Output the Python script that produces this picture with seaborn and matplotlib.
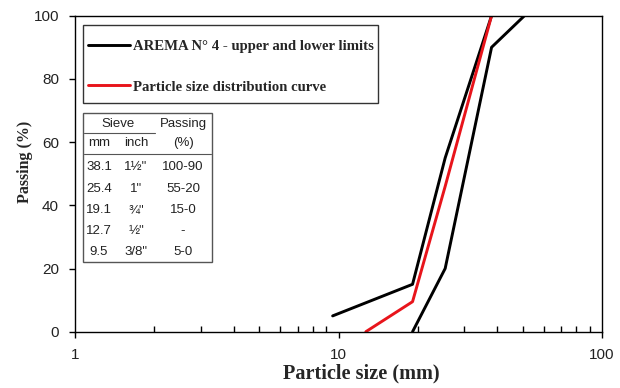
import matplotlib
matplotlib.use("Agg")
import matplotlib.pyplot as plt
import seaborn as sns
import pandas as pd
from matplotlib.ticker import LogLocator, NullFormatter, FixedLocator
from matplotlib.lines import Line2D
from matplotlib.patches import Rectangle

# ---- data ----
upper_size = [9.5, 19.1, 25.4, 38.1]
upper_pass = [5, 15, 55, 100]
lower_size = [19.1, 25.4, 38.1, 50.8]
lower_pass = [0, 20, 90, 100]
curve_size = [12.7, 19.1, 25.4, 38.1]
curve_pass = [0, 9.5, 46, 100]

table_mm = ["38.1", "25.4", "19.1", "12.7", "9.5"]
table_inch = ["1\u00bd\"", "1\"", "\u00be\"", "\u00bd\"", "3/8\""]
table_pass = ["100-90", "55-20", "15-0", "-", "5-0"]

legend_labels = ["AREMA N\u00b0 4 - upper and lower limits", "Particle size distribution curve"]
x_ticks = [1, 10, 100]
y_ticks = [0, 20, 40, 60, 80, 100]

sns.set_theme(style="white")
plt.rcParams['font.family'] = ['Liberation Sans', 'DejaVu Sans']

W, H = 620, 388
fig = plt.figure(figsize=(W / 100, H / 100), dpi=100)
ax_l, ax_r, ax_t, ax_b = 75, 602, 15.7, 331.7
ax = fig.add_axes([ax_l / W, 1 - ax_b / H, (ax_r - ax_l) / W, (ax_b - ax_t) / H])

df_u = pd.DataFrame({"size": upper_size, "pass": upper_pass})
df_l = pd.DataFrame({"size": lower_size, "pass": lower_pass})
df_c = pd.DataFrame({"size": curve_size, "pass": curve_pass})

lw = 2.1
red = "#e8141b"
sns.lineplot(data=df_u, x="size", y="pass", color="black", lw=lw, sort=False, estimator=None, ax=ax)
sns.lineplot(data=df_l, x="size", y="pass", color="black", lw=lw, sort=False, estimator=None, ax=ax)
sns.lineplot(data=df_c, x="size", y="pass", color=red, lw=lw, sort=False, estimator=None, ax=ax)

ax.set_xscale("log")
ax.set_xlim(1, 100)
ax.set_ylim(0, 100)
ax.xaxis.set_major_locator(FixedLocator(x_ticks))
ax.set_xticklabels([str(t) for t in x_ticks])
ax.xaxis.set_minor_locator(LogLocator(base=10, subs=range(2, 10)))
ax.xaxis.set_minor_formatter(NullFormatter())
ax.set_yticks(y_ticks)
ax.set_yticklabels([str(t) for t in y_ticks])

for s in ax.spines.values():
    s.set_visible(True)
    s.set_color("black")
    s.set_linewidth(1.0)

ax.tick_params(axis="x", which="major", direction="out", length=4, width=1, color="black",
               labelsize=11, pad=8, labelcolor="#222222", bottom=True)
ax.tick_params(axis="x", which="minor", direction="in", length=4, width=1, color="black", bottom=True)
ax.tick_params(axis="y", which="major", direction="out", length=4.5, width=1, color="black",
               labelsize=11, pad=7, labelcolor="#222222", left=True)

serif = ['Liberation Serif', 'DejaVu Serif']
ax.set_xlabel("Particle size (mm)", fontdict=dict(family=serif, weight='bold', size=14.6))
ax.xaxis.set_label_coords((361 - ax_l) / (ax_r - ax_l), -(373 - ax_b) / (ax_b - ax_t), transform=ax.transAxes)
ax.xaxis.label.set_va("center")
ax.set_ylabel("Passing (%)", fontdict=dict(family=serif, weight='bold', size=11.5))
ax.yaxis.set_label_coords(-(ax_l - 25) / (ax_r - ax_l), (ax_b - 162) / (ax_b - ax_t), transform=ax.transAxes)
ax.yaxis.label.set_va("center")


def fx(px):
    return px / W


def fy(py):
    return 1 - py / H


# ---- legend ----
leg_box = Rectangle((fx(83), fy(103)), fx(378) - fx(83), fy(25) - fy(103),
                    transform=fig.transFigure, fill=True, facecolor="white",
                    edgecolor="#333333", lw=1.0, zorder=4, clip_on=False)
ax.add_patch(leg_box)
handles = [Line2D([], [], color="black", lw=lw), Line2D([], [], color=red, lw=lw)]
leg = ax.legend(handles, legend_labels, loc="upper left",
                bbox_to_anchor=((88 - ax_l) / (ax_r - ax_l), (ax_b - 39.5) / (ax_b - ax_t)),
                borderaxespad=0, frameon=False, handlelength=2.84, handletextpad=0.2,
                labelspacing=1.85, borderpad=0,
                prop=dict(family=serif, weight='bold', size=10.66))
leg.set_zorder(6)

# ---- sieve table ----
tab_box = Rectangle((fx(83), fy(262)), fx(212) - fx(83), fy(113) - fy(262),
                    transform=fig.transFigure, fill=True, facecolor="white",
                    edgecolor="#555555", lw=1.0, zorder=5, clip_on=False)
ax.add_patch(tab_box)
fig.add_artist(Line2D([fx(84), fx(155)], [fy(133), fy(133)], color="#555555", lw=0.8,
                      transform=fig.transFigure, zorder=6))
fig.add_artist(Line2D([fx(84), fx(211)], [fy(154), fy(154)], color="#555555", lw=0.8,
                      transform=fig.transFigure, zorder=6))

tf = dict(family=['Liberation Sans', 'DejaVu Sans'], size=9.5, color="#222222", zorder=7)
fig.text(fx(118), fy(124), "Sieve", ha="center", va="center", **tf)
fig.text(fx(183), fy(124), "Passing", ha="center", va="center", **tf)
fig.text(fx(183), fy(143), "(%)", ha="center", va="center", **tf)
fig.text(fx(99), fy(143), "mm", ha="center", va="center", **tf)
fig.text(fx(136), fy(143), "inch", ha="center", va="center", **tf)
row_y = [167, 189, 210, 231, 252]
for yy, a, b, c in zip(row_y, table_mm, table_inch, table_pass):
    fig.text(fx(99), fy(yy), a, ha="center", va="center", **tf)
    fig.text(fx(136), fy(yy), b, ha="center", va="center", **tf)
    fig.text(fx(183), fy(yy), c, ha="center", va="center", **tf)

fig.savefig("out.png", dpi=100)
